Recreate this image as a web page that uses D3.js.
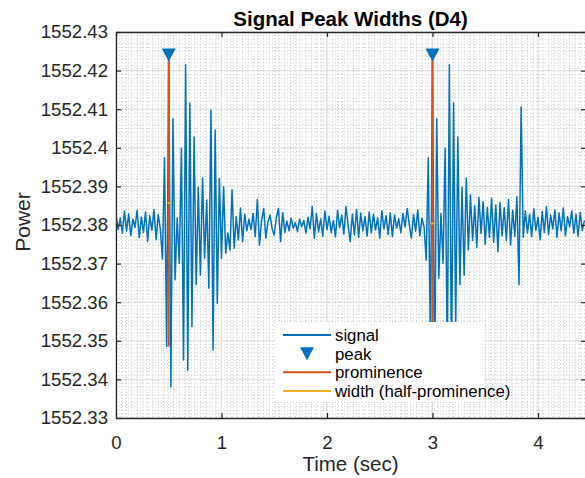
<!DOCTYPE html>
<html>
<head>
<meta charset="utf-8">
<script src="https://d3js.org/d3.v7.min.js"></script>
<style>
  body { margin: 0; background: #fff; }
  svg { display: block; font-family: Helvetica, Arial, "Liberation Sans", sans-serif; }
</style>
</head>
<body>
<script>
  // sample period (sec)
  var dt = 0.02;

  // measured power, one value per sample
  var power = [
    1552.3826, 1552.3788, 1552.3818, 1552.3779, 1552.3836, 1552.3784, 1552.3829, 1552.3772, 1552.3815, 1552.3794,
    1552.3838, 1552.3767, 1552.3821, 1552.3781, 1552.3834, 1552.3758, 1552.3824, 1552.3786, 1552.3840, 1552.3762,
    1552.3827, 1552.3790,
    1552.3712, 1552.3974, 1552.3485, 1552.4238, 1552.3381, 1552.4075, 1552.3658, 1552.3818, 1552.3701, 1552.3999,
    1552.3450, 1552.4215, 1552.3424, 1552.4116, 1552.3537, 1552.4028, 1552.3645, 1552.3898, 1552.3670, 1552.3922,
    1552.3714, 1552.3865, 1552.3636, 1552.4098, 1552.3476, 1552.4046, 1552.3597, 1552.3921, 1552.3714, 1552.3899,
    1552.3727, 1552.3779, 1552.3735, 1552.3891, 1552.3740, 1552.3822, 1552.3761, 1552.3844, 1552.3757, 1552.3828,
    1552.3785, 1552.3815,
    1552.3788, 1552.3830, 1552.3770, 1552.3866, 1552.3748, 1552.3812, 1552.3843, 1552.3766, 1552.3808, 1552.3826,
    1552.3790, 1552.3774, 1552.3820, 1552.3843, 1552.3757, 1552.3832, 1552.3781, 1552.3810, 1552.3785, 1552.3818,
    1552.3792, 1552.3806, 1552.3783, 1552.3815, 1552.3796, 1552.3812, 1552.3779, 1552.3820, 1552.3790, 1552.3848,
    1552.3766, 1552.3829, 1552.3782, 1552.3816, 1552.3771, 1552.3836, 1552.3788, 1552.3823, 1552.3780, 1552.3812,
    1552.3769, 1552.3838, 1552.3793, 1552.3826, 1552.3776, 1552.3848, 1552.3800, 1552.3757, 1552.3828, 1552.3774,
    1552.3840, 1552.3768, 1552.3831, 1552.3785, 1552.3822, 1552.3771, 1552.3834, 1552.3779, 1552.3828, 1552.3787,
    1552.3819, 1552.3766, 1552.3837, 1552.3790, 1552.3824, 1552.3775, 1552.3832, 1552.3770, 1552.3826, 1552.3792,
    1552.3816, 1552.3780, 1552.3830, 1552.3795, 1552.3843, 1552.3801, 1552.3766, 1552.3827, 1552.3784, 1552.3839,
    1552.3772, 1552.3818, 1552.3795,
    1552.3709, 1552.3974, 1552.3485, 1552.4238, 1552.3375, 1552.4075, 1552.3662, 1552.3830, 1552.3701, 1552.3999,
    1552.3450, 1552.4215, 1552.3424, 1552.4116, 1552.3537, 1552.4028, 1552.3645, 1552.3898, 1552.3670, 1552.3922,
    1552.3735, 1552.3878, 1552.3760, 1552.3850, 1552.3742, 1552.3872, 1552.3778, 1552.3861, 1552.3750, 1552.3846,
    1552.3768, 1552.3869, 1552.3755, 1552.3852, 1552.3731, 1552.3858, 1552.3772, 1552.3845, 1552.3760, 1552.3866,
    1552.3748, 1552.3838, 1552.3771, 1552.3873, 1552.3645, 1552.4106, 1552.3768, 1552.3837, 1552.3779, 1552.3828,
    1552.3770, 1552.3842, 1552.3786, 1552.3820, 1552.3762, 1552.3835, 1552.3781, 1552.3848, 1552.3775, 1552.3826,
    1552.3790, 1552.3839, 1552.3768, 1552.3831, 1552.3785, 1552.3844, 1552.3772, 1552.3822, 1552.3796, 1552.3836,
    1552.3779, 1552.3828, 1552.3770, 1552.3833, 1552.3786, 1552.3812
  ];

  var xTicks = [0, 1, 2, 3, 4];
  var xTickLabels = ["0", "1", "2", "3", "4"];
  var yTicks = [1552.33, 1552.34, 1552.35, 1552.36, 1552.37, 1552.38, 1552.39, 1552.40, 1552.41, 1552.42, 1552.43];
  var yTickLabels = ["1552.33", "1552.34", "1552.35", "1552.36", "1552.37", "1552.38", "1552.39", "1552.4", "1552.41", "1552.42", "1552.43"];

  // peaks found
  var peakTimes = [0.50, 3.00];
  var peakValues = [1552.4238, 1552.4238];
  var promBase = [1552.3485, 1552.3375];
  var widthHeight = [1552.3857, 1552.3804];
  var widthLeft = [0.488, 2.984];
  var widthRight = [0.521, 3.017];

  var legendLabels = ["signal", "peak", "prominence", "width (half-prominence)"];

  var blue = "#0072BD", red = "#D95319", yellow = "#EDB120", axisCol = "#262626";

  var W = 585, H = 478;
  var margin = { top: 32, right: -1, bottom: 60, left: 116 },
      width = W - margin.left - margin.right,
      height = H - margin.top - margin.bottom;

  var svg = d3.select("body").append("svg")
      .attr("width", W)
      .attr("height", H);

  var g = svg.append("g")
      .attr("transform", "translate(" + margin.left + "," + margin.top + ")");

  var x = d3.scaleLinear().domain([0, 4.455]).range([0, width]);
  var y = d3.scaleLinear().domain([1552.33, 1552.43]).range([height, 0]);

  g.append("clipPath").attr("id", "plotclip")
      .append("rect").attr("width", width).attr("height", height);

  // minor grid (dotted)
  var grid = g.append("g");
  grid.selectAll(".mx")
      .data(d3.range(0.05, 4.455, 0.05))
      .enter().append("line")
      .attr("x1", function (d) { return x(d); })
      .attr("x2", function (d) { return x(d); })
      .attr("y1", 0).attr("y2", height)
      .attr("stroke", "#cdcdcd")
      .attr("stroke-width", 1)
      .attr("stroke-dasharray", "1,2");
  grid.selectAll(".my")
      .data(d3.range(1, 100).map(function (i) { return 1552.33 + i * 0.001; }))
      .enter().append("line")
      .attr("x1", 0).attr("x2", width)
      .attr("y1", function (d) { return y(d); })
      .attr("y2", function (d) { return y(d); })
      .attr("stroke", "#cdcdcd")
      .attr("stroke-width", 1)
      .attr("stroke-dasharray", "1,2");

  // major grid
  grid.selectAll(".gx")
      .data(xTicks)
      .enter().append("line")
      .attr("x1", function (d) { return x(d); })
      .attr("x2", function (d) { return x(d); })
      .attr("y1", 0).attr("y2", height)
      .attr("stroke", "#dedede");
  grid.selectAll(".gy")
      .data(yTicks)
      .enter().append("line")
      .attr("x1", 0).attr("x2", width)
      .attr("y1", function (d) { return y(d); })
      .attr("y2", function (d) { return y(d); })
      .attr("stroke", "#dedede");

  var plot = g.append("g").attr("clip-path", "url(#plotclip)");

  // signal
  var line = d3.line()
      .x(function (d, i) { return x(i * dt); })
      .y(function (d) { return y(d); });

  plot.append("path")
      .datum(power)
      .attr("d", line)
      .attr("fill", "none")
      .attr("stroke", blue)
      .attr("stroke-width", 1.5)
      .attr("stroke-linejoin", "round");

  // prominence
  plot.selectAll(".prom")
      .data(peakTimes)
      .enter().append("line")
      .attr("x1", function (d) { return x(d); })
      .attr("x2", function (d) { return x(d); })
      .attr("y1", function (d, i) { return y(peakValues[i]); })
      .attr("y2", function (d, i) { return y(promBase[i]); })
      .attr("stroke", red)
      .attr("stroke-width", 2);

  // width at half prominence
  plot.selectAll(".wid")
      .data(peakTimes)
      .enter().append("line")
      .attr("x1", function (d, i) { return x(widthLeft[i]); })
      .attr("x2", function (d, i) { return x(widthRight[i]); })
      .attr("y1", function (d, i) { return y(widthHeight[i]); })
      .attr("y2", function (d, i) { return y(widthHeight[i]); })
      .attr("stroke", yellow)
      .attr("stroke-width", 2);

  // peak markers
  var tri = "M-7,-6.5L7,-6.5L0,6.5Z";
  plot.selectAll(".pk")
      .data(peakTimes)
      .enter().append("path")
      .attr("d", tri)
      .attr("transform", function (d, i) { return "translate(" + x(d) + "," + (y(peakValues[i]) - 1) + ")"; })
      .attr("fill", blue);

  // axes
  function styleAxis(sel) {
    sel.selectAll("path").attr("stroke", axisCol).attr("stroke-width", 1.3);
    sel.selectAll("line").attr("stroke", axisCol).attr("stroke-width", 1.2);
    sel.selectAll("text").attr("fill", axisCol).style("font-size", "18.6px");
  }

  g.append("g")
      .attr("transform", "translate(0," + height + ")")
      .call(d3.axisBottom(x).tickValues(xTicks)
        .tickFormat(function (d, i) { return xTickLabels[i]; })
        .tickSizeInner(-5).tickSizeOuter(0).tickPadding(18))
      .call(styleAxis);

  g.append("g")
      .call(d3.axisLeft(y).tickValues(yTicks)
        .tickFormat(function (d, i) { return yTickLabels[i]; })
        .tickSizeInner(-5).tickSizeOuter(0).tickPadding(8))
      .call(styleAxis);

  g.append("g")
      .call(d3.axisTop(x).tickValues(xTicks).tickFormat("")
        .tickSizeInner(-5).tickSizeOuter(0))
      .call(styleAxis);

  g.append("g")
      .attr("transform", "translate(" + width + ",0)")
      .call(d3.axisRight(y).tickValues(yTicks).tickFormat("")
        .tickSizeInner(-5).tickSizeOuter(0))
      .call(styleAxis);

  // legend
  var leg = g.append("g")
      .attr("transform", "translate(" + (275 - margin.left) + "," + (322 - margin.top) + ")");
  leg.append("rect")
      .attr("width", 209).attr("height", 80)
      .attr("fill", "#fff");
  var rowY = d3.scalePoint().domain(legendLabels).range([13, 69]);
  var items = leg.selectAll(".item")
      .data(legendLabels)
      .enter().append("g")
      .attr("transform", function (d) { return "translate(0," + rowY(d) + ")"; });
  items.filter(function (d, i) { return i !== 1; })
      .append("line")
      .attr("x1", 8).attr("x2", 56)
      .attr("stroke", function (d, i) { return [blue, red, yellow][i]; })
      .attr("stroke-width", 2);
  items.filter(function (d, i) { return i === 1; })
      .append("path")
      .attr("d", tri)
      .attr("transform", "translate(32,0)")
      .attr("fill", blue);
  items.append("text")
      .attr("x", 60)
      .attr("dy", "0.35em")
      .attr("fill", "#000")
      .style("font-size", "16.8px")
      .text(function (d) { return d; });

  // title and labels
  svg.append("text")
      .attr("x", margin.left + 469 / 2)
      .attr("y", 26)
      .attr("text-anchor", "middle")
      .attr("font-weight", "bold")
      .attr("fill", "#000")
      .style("font-size", "20.5px")
      .text("Signal Peak Widths (D4)");

  svg.append("text")
      .attr("x", margin.left + 469 / 2)
      .attr("y", 471)
      .attr("text-anchor", "middle")
      .attr("fill", axisCol)
      .style("font-size", "20.5px")
      .text("Time (sec)");

  svg.append("text")
      .attr("transform", "translate(30," + (margin.top + height / 2 - 3) + ") rotate(-90)")
      .attr("text-anchor", "middle")
      .attr("fill", axisCol)
      .style("font-size", "21px")
      .text("Power");
</script>
</body>
</html>
